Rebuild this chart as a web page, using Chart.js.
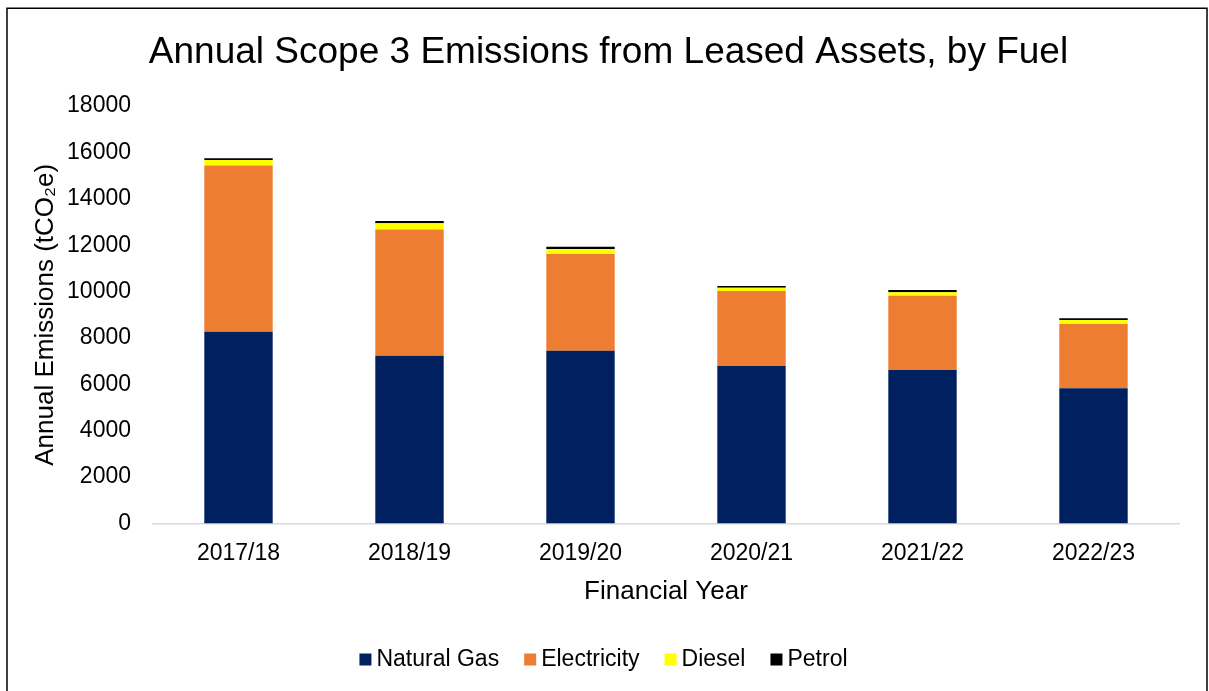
<!DOCTYPE html>
<html><head><meta charset="utf-8">
<script src="https://cdn.jsdelivr.net/npm/chart.js@4/dist/chart.umd.min.js"></script>
<style>html,body{margin:0;padding:0;background:#fff;overflow:hidden}#wrap{width:1209px;height:691px;position:relative}</style>
</head><body><div id="wrap"><canvas id="c" width="1209" height="691"></canvas></div>
<script>
const categories = ['2017/18', '2018/19', '2019/20', '2020/21', '2021/22', '2022/23'];
const naturalGas = [8270, 7230, 7450, 6790, 6620, 5830];
const electricity = [7160, 5450, 4170, 3230, 3200, 2770];
const diesel = [245, 260, 215, 140, 145, 175];
const petrol = [75, 100, 100, 75, 100, 75];
const seriesNames = ['Natural Gas', 'Electricity', 'Diesel', 'Petrol'];
const seriesColors = ['#002060', '#ED7D31', '#FFFF00', '#000000'];
const chartTitle = 'Annual Scope 3 Emissions from Leased Assets, by Fuel';
const xTitle = 'Financial Year';
const yTitle = 'Annual Emissions (tCO\u2082e)';

const FONT = '"Liberation Sans", Arial, sans-serif';
Chart.defaults.font.family = FONT;
Chart.defaults.color = '#000';

const framePlugin = {
  id: 'frame',
  beforeDraw(chart) {
    const c = chart.ctx;
    c.save();
    c.fillStyle = '#fff';
    c.fillRect(0, 0, chart.width, chart.height);
    c.restore();
  },
  afterDraw(chart) {
    const c = chart.ctx;
    c.save();
    c.strokeStyle = '#000';
    c.lineWidth = 1.5;
    c.strokeRect(7, 8.25, 1200, 720);
    // custom legend
    const ds = chart.data.datasets;
    c.font = '23px ' + FONT;
    c.textBaseline = 'middle';
    const box = 12, gapBox = 5, gapItem = 25;
    const widths = ds.map(d => box + gapBox + c.measureText(d.label).width);
    const total = widths.reduce((a, b) => a + b, 0) + gapItem * (ds.length - 1);
    let x = 603.5 - total / 2;
    const y = 659.5;
    ds.forEach((d, i) => {
      c.fillStyle = d.backgroundColor;
      c.fillRect(x, y - 6, box, box);
      c.fillStyle = '#000';
      c.fillText(d.label, x + box + gapBox, y);
      x += widths[i] + gapItem;
    });
    c.restore();
  }
};

const seriesData = [naturalGas, electricity, diesel, petrol];
new Chart(document.getElementById('c'), {
  type: 'bar',
  data: {
    labels: categories,
    datasets: seriesNames.map((n, i) => ({
      label: n,
      data: seriesData[i],
      backgroundColor: seriesColors[i],
      borderWidth: 0,
      barPercentage: 0.4,
      categoryPercentage: 1.0
    }))
  },
  options: {
    responsive: false,
    animation: false,
    devicePixelRatio: 1,
    layout: { padding: { left: 38, right: 30, top: 31, bottom: 81.5 } },
    plugins: {
      legend: { display: false },
      tooltip: { enabled: false },
      title: {
        display: true, text: chartTitle, color: '#000',
        font: { size: 37, weight: 'normal' },
        padding: { top: 0, bottom: 30.6 }
      }
    },
    scales: {
      x: {
        stacked: true,
        grid: { display: false, drawTicks: false },
        border: { display: true, color: '#D9D9D9', width: 1.5 },
        ticks: { padding: 16.5, font: { size: 23 }, color: '#000' },
        title: { display: true, text: xTitle, color: '#000', font: { size: 26 }, padding: { top: 0, bottom: 2 } },
        afterFit(s) { s.height = 86; }
      },
      y: {
        stacked: true, min: 0, max: 18000,
        grid: { display: false, drawTicks: false },
        border: { display: false },
        ticks: { stepSize: 2000, padding: 22, font: { size: 23 }, color: '#000', callback: v => String(v) },
        title: { display: true, text: yTitle, color: '#000', font: { size: 26 }, padding: { top: -7.6, bottom: 0 } },
        afterFit(s) { s.width = 115; }
      }
    }
  },
  plugins: [framePlugin]
});
</script>
</body></html>
